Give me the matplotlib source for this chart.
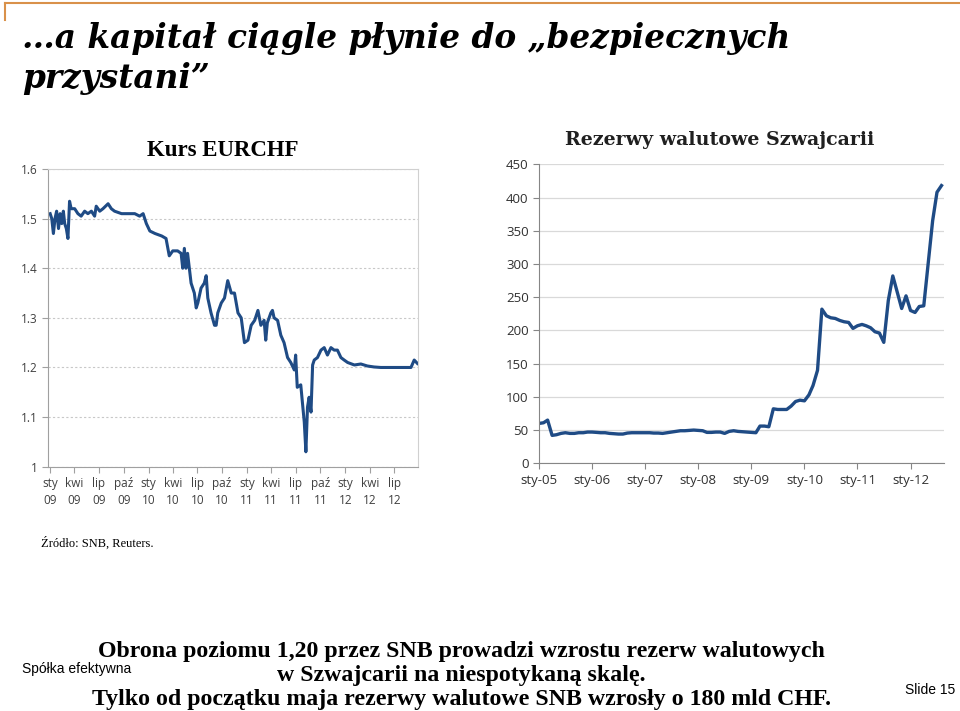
import matplotlib.pyplot as plt
import pandas as pd

# Kurs EURCHF (odczyt z wykresu)
eurchf_dates = [
    '2009-01-01', '2009-01-07', '2009-01-13', '2009-01-19', '2009-01-25', '2009-02-01',
    '2009-02-07', '2009-02-13', '2009-02-19', '2009-02-24', '2009-03-02', '2009-03-08',
    '2009-03-14', '2009-03-20', '2009-04-02', '2009-04-14', '2009-04-26', '2009-05-09',
    '2009-05-21', '2009-06-03', '2009-06-15', '2009-06-21', '2009-07-04', '2009-07-16',
    '2009-08-04', '2009-08-16', '2009-08-28', '2009-09-23', '2009-10-17', '2009-11-11',
    '2009-11-29', '2009-12-12', '2009-12-24', '2010-01-06', '2010-01-25', '2010-02-19',
    '2010-03-07', '2010-03-19', '2010-04-01', '2010-04-19', '2010-05-02', '2010-05-08',
    '2010-05-14', '2010-05-20', '2010-05-26', '2010-06-08', '2010-06-20', '2010-06-27',
    '2010-07-03', '2010-07-15', '2010-07-27', '2010-08-03', '2010-08-09', '2010-08-21',
    '2010-09-03', '2010-09-09', '2010-09-15', '2010-09-28', '2010-10-10', '2010-10-22',
    '2010-11-04', '2010-11-16', '2010-11-29', '2010-12-11', '2010-12-23', '2011-01-05',
    '2011-01-17', '2011-01-30', '2011-02-11', '2011-02-22', '2011-03-06', '2011-03-12',
    '2011-03-18', '2011-03-31', '2011-04-06', '2011-04-12', '2011-04-25', '2011-05-07',
    '2011-05-19', '2011-06-01', '2011-06-13', '2011-06-26', '2011-07-01', '2011-07-07',
    '2011-07-20', '2011-07-26', '2011-08-02', '2011-08-08', '2011-08-14', '2011-08-20',
    '2011-08-27', '2011-09-02', '2011-09-08', '2011-09-20', '2011-10-03', '2011-10-15',
    '2011-10-27', '2011-11-09', '2011-11-21', '2011-12-03', '2011-12-16', '2011-12-28',
    '2012-01-10', '2012-02-04', '2012-02-28', '2012-03-23', '2012-04-17', '2012-05-12',
    '2012-09-01', '2012-09-13', '2012-09-25',
]
eurchf = [
    1.51, 1.50, 1.47, 1.50, 1.515, 1.48,
    1.51, 1.49, 1.515, 1.49, 1.48, 1.46,
    1.535, 1.52, 1.52, 1.51, 1.505, 1.515,
    1.51, 1.515, 1.505, 1.525, 1.515, 1.52,
    1.53, 1.52, 1.515, 1.51, 1.51, 1.51,
    1.505, 1.51, 1.49, 1.475, 1.47, 1.465,
    1.46, 1.425, 1.435, 1.435, 1.43, 1.40,
    1.44, 1.40, 1.43, 1.37, 1.35, 1.32,
    1.33, 1.36, 1.37, 1.385, 1.34, 1.31,
    1.285, 1.285, 1.31, 1.33, 1.34, 1.375,
    1.35, 1.35, 1.31, 1.30, 1.25, 1.255,
    1.285, 1.295, 1.315, 1.285, 1.295, 1.255,
    1.29, 1.31, 1.315, 1.30, 1.295, 1.265,
    1.25, 1.22, 1.21, 1.195, 1.225, 1.16,
    1.165, 1.13, 1.09, 1.03, 1.12, 1.14,
    1.11, 1.205, 1.215, 1.22, 1.235, 1.24,
    1.225, 1.24, 1.235, 1.235, 1.22, 1.215,
    1.21, 1.205, 1.207, 1.203, 1.201, 1.20,
    1.20, 1.215, 1.208,
]
left_ticks = pd.date_range('2009-01-01', '2012-07-01', freq='3MS')
left_labels = ['sty\n09', 'kwi\n09', 'lip\n09', 'paź\n09', 'sty\n10', 'kwi\n10', 'lip\n10',
               'paź\n10', 'sty\n11', 'kwi\n11', 'lip\n11', 'paź\n11', 'sty\n12', 'kwi\n12',
               'lip\n12']

# Rezerwy walutowe SNB, mld CHF, miesięcznie od stycznia 2005
reserves = [
    60, 61, 65, 42, 43, 45, 46, 45, 45, 46, 46, 47,
    47, 46.5, 46, 46, 45, 44.5, 44, 44, 45.5, 46, 46, 46,
    46, 46, 45.5, 45.5, 45, 46, 47, 48, 49, 49, 49.5, 50,
    49.5, 49, 46.5, 46.5, 47, 47, 45, 48, 49, 48, 47.5, 47,
    46.5, 46, 56, 56, 55, 82, 81, 81, 81, 86, 93, 95,
    94, 103, 117, 140, 232, 222, 219, 218, 215, 213, 212, 203,
    207, 209, 207, 204, 198, 196, 182, 245, 282, 258, 233, 252,
    230, 227, 236, 237, 300, 365, 408, 418,
]
reserve_dates = pd.date_range('2005-01-01', periods=len(reserves), freq='MS')
right_ticks = pd.date_range('2005-01-01', '2012-01-01', freq='YS')
right_labels = ['sty-05', 'sty-06', 'sty-07', 'sty-08', 'sty-09', 'sty-10', 'sty-11', 'sty-12']

bottom_lines = [
    'Obrona poziomu 1,20 przez SNB prowadzi wzrostu rezerw walutowych',
    'w Szwajcarii na niespotykaną skalę.',
    'Tylko od początku maja rezerwy walutowe SNB wzrosły o 180 mld CHF.',
]

line_col = '#1F4B85'
tick_font = 'Open Sans'
W, H = 960, 711

fig = plt.figure(figsize=(9.6, 7.11), dpi=100)

# ramka slajdu
fig.add_artist(plt.Line2D([0.005, 1.0], [0.996, 0.996], color='#D9914A', lw=1.5))
fig.add_artist(plt.Line2D([0.005, 0.005], [0.996, 0.972], color='#D9914A', lw=1.5))

fig.text(22 / W, 1 - 48 / H, '…a kapitał ciągle płynie do „bezpiecznych',
         family='DejaVu Serif', style='italic', weight='bold', fontsize=23.6, va='baseline')
fig.text(22 / W, 1 - 88 / H, 'przystani”',
         family='DejaVu Serif', style='italic', weight='bold', fontsize=23.6, va='baseline')

# lewy wykres
ax1 = fig.add_axes([0.05, 0.3436, 0.3854, 0.4187])
ax1.plot(pd.to_datetime(eurchf_dates), eurchf, color=line_col, lw=2.2)
ax1.set_ylim(1.0, 1.6)
ax1.set_yticks([1.0, 1.1, 1.2, 1.3, 1.4, 1.5, 1.6])
ax1.set_yticklabels(['1', '1.1', '1.2', '1.3', '1.4', '1.5', '1.6'])
ax1.set_xlim(pd.Timestamp('2008-12-24'), pd.Timestamp('2012-09-27'))
ax1.set_xticks(left_ticks)
ax1.set_xticklabels(left_labels, linespacing=1.4)
ax1.grid(axis='y', color='#C8C8C8', ls=(0, (2, 2)), lw=0.8)
for s in ['left', 'bottom']:
    ax1.spines[s].set_color('#A0A0A0')
for s in ['top', 'right']:
    ax1.spines[s].set_color('#D0D0D0')
ax1.tick_params(axis='both', colors='#A0A0A0', labelcolor='#404040', labelsize=8.5, length=4)
for lab in ax1.get_xticklabels() + ax1.get_yticklabels():
    lab.set_family(tick_font)
fig.text(223 / W, 1 - 150 / H, 'Kurs EURCHF', family='Liberation Serif', weight='bold',
         fontsize=16.5, ha='center', va='center')

# prawy wykres
ax2 = fig.add_axes([0.5615, 0.3484, 0.4218, 0.4205])
ax2.plot(reserve_dates, reserves, color=line_col, lw=2.4, solid_joinstyle='round')
ax2.set_ylim(0, 450)
ax2.set_yticks(range(0, 451, 50))
ax2.set_xlim(pd.Timestamp('2005-01-01'), pd.Timestamp('2012-08-18'))
ax2.set_xticks(right_ticks)
ax2.set_xticklabels(right_labels)
ax2.grid(axis='y', color='#D9D9D9', lw=0.9)
ax2.set_axisbelow(True)
for s in ['top', 'right']:
    ax2.spines[s].set_visible(False)
for s in ['left', 'bottom']:
    ax2.spines[s].set_color('#868686')
ax2.tick_params(axis='both', colors='#868686', labelcolor='#303030', labelsize=9.5, length=4)
for lab in ax2.get_xticklabels() + ax2.get_yticklabels():
    lab.set_family(tick_font)
fig.text(720 / W, 1 - 140 / H, 'Rezerwy walutowe Szwajcarii', family='DejaVu Serif',
         weight='bold', fontsize=13.7, ha='center', va='center', color='#202020')

fig.text(41 / W, 1 - 547 / H, 'Źródło: SNB, Reuters.', family='Liberation Serif', fontsize=9)

for txt, yc in zip(bottom_lines, [651, 676, 699]):
    fig.text(461 / W, 1 - yc / H, txt, family='Liberation Serif', weight='bold',
             fontsize=17.2, ha='center', va='center')
fig.text(22 / W, 1 - 669 / H, 'Spółka efektywna', family='Liberation Sans',
         fontsize=10, va='center')
fig.text(905 / W, 1 - 690 / H, 'Slide 15', family='Liberation Sans', fontsize=10,
         va='center')

fig.savefig('out.png', dpi=100)
